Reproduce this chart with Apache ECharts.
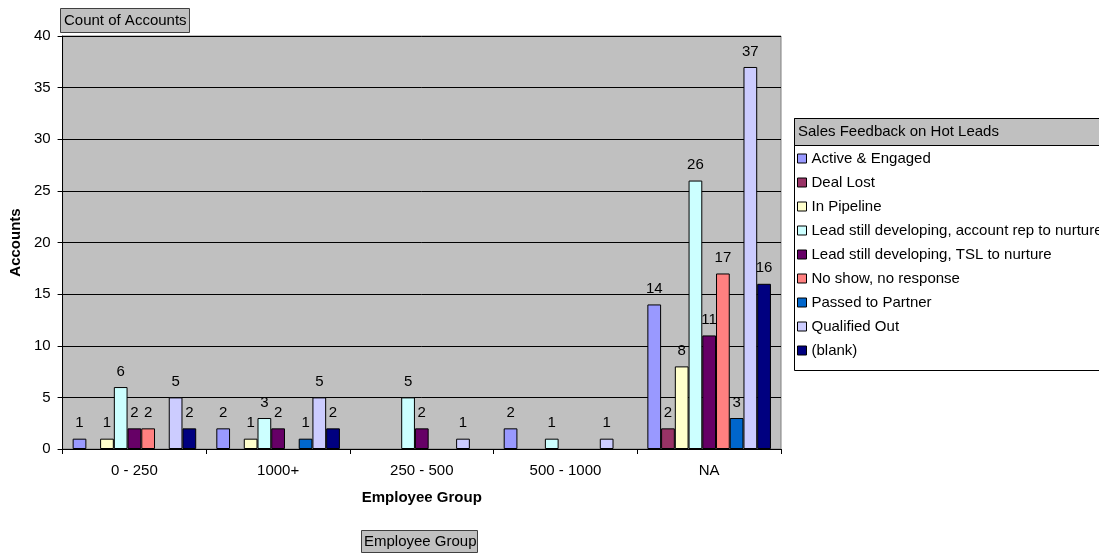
<!DOCTYPE html>
<html>
<head>
<meta charset="utf-8">
<script src="https://cdn.jsdelivr.net/npm/echarts@6/dist/echarts.min.js"></script>
<style>
  html, body { margin: 0; padding: 0; background: #fff; }
  #chart { width: 1099px; height: 554px; }
</style>
</head>
<body>
<div id="chart"></div>
<script>
// Employee groups along the x axis
const categories = ['0 - 250', '1000+', '250 - 500', '500 - 1000', 'NA'];

// Account counts per feedback status (null = no accounts in that group)
const activeEngaged   = [1, 2, null, 2, 14];
const dealLost        = [null, null, null, null, 2];
const inPipeline      = [1, 1, null, null, 8];
const leadAccountRep  = [6, 3, 5, 1, 26];
const leadTsl         = [2, 2, 2, null, 11];
const noShow          = [2, null, null, null, 17];
const passedToPartner = [null, 1, null, null, 3];
const qualifiedOut    = [5, 5, 1, 1, 37];
const blank           = [2, 2, null, null, 16];

const seriesNames = [
  'Active & Engaged', 'Deal Lost', 'In Pipeline',
  'Lead still developing, account rep to nurture',
  'Lead still developing, TSL to nurture',
  'No show, no response', 'Passed to Partner', 'Qualified Out', '(blank)'
];
const seriesData = [activeEngaged, dealLost, inPipeline, leadAccountRep, leadTsl,
                    noShow, passedToPartner, qualifiedOut, blank];
const seriesColors = ['#9999FF', '#993366', '#FFFFCC', '#CCFFFF', '#660066',
                      '#FF8080', '#0066CC', '#CCCCFF', '#000080'];

const yTicks = { min: 0, max: 40, interval: 5 };

const FONT = 'Liberation Sans, Arial, sans-serif';
const FS = 15;

const chart = echarts.init(document.getElementById('chart'), null, { renderer: 'canvas' });

const series = seriesNames.map((name, i) => ({
  name,
  type: 'bar',
  data: seriesData[i],
  barGap: '0%',
  barCategoryGap: '14%',
  itemStyle: { color: seriesColors[i], borderColor: '#000', borderWidth: 1 },
  label: {
    show: true,
    position: 'top',
    distance: 8,
    color: '#000',
    fontFamily: FONT,
    fontSize: FS
  }
}));

chart.setOption({
  animation: false,
  textStyle: { fontFamily: FONT },
  grid: {
    left: 61, right: 318, top: 36, bottom: 105,
    show: true,
    backgroundColor: '#C0C0C0',
    borderColor: '#808080',
    borderWidth: 1
  },
  legend: {
    orient: 'vertical',
    left: 797,
    top: 151,
    padding: 0,
    itemWidth: 9,
    itemHeight: 9,
    itemGap: 9,
    icon: 'rect',
    align: 'left',
    textStyle: { fontFamily: FONT, fontSize: FS, lineHeight: 15, color: '#000' },
    data: seriesNames.map((n, i) => ({
      name: n,
      itemStyle: { color: seriesColors[i], borderColor: '#000', borderWidth: 1 }
    }))
  },
  xAxis: {
    type: 'category',
    data: categories,
    name: 'Employee Group',
    nameLocation: 'middle',
    nameGap: 41,
    nameTextStyle: { fontFamily: FONT, fontSize: FS, fontWeight: 'bold', color: '#000' },
    axisLine: { lineStyle: { color: '#000', width: 1 } },
    axisTick: { show: true, alignWithLabel: false, length: 5, lineStyle: { color: '#000' } },
    axisLabel: { color: '#000', fontFamily: FONT, fontSize: FS, margin: 14 },
    splitLine: { show: false }
  },
  yAxis: {
    type: 'value',
    min: yTicks.min,
    max: yTicks.max,
    interval: yTicks.interval,
    name: 'Accounts',
    nameLocation: 'middle',
    nameGap: 34,
    nameRotate: 90,
    nameTextStyle: { fontFamily: FONT, fontSize: FS, fontWeight: 'bold', color: '#000' },
    axisLine: { show: true, lineStyle: { color: '#000', width: 1 } },
    axisTick: { show: true, length: 5, lineStyle: { color: '#000' } },
    axisLabel: { color: '#000', fontFamily: FONT, fontSize: FS, margin: 12 },
    splitLine: { show: true, lineStyle: { color: '#000', width: 1 } }
  },
  graphic: [
    // "Count of Accounts" field button
    {
      type: 'group', left: 60, top: 8,
      children: [
        { type: 'rect', shape: { x: 0.5, y: 0.5, width: 129, height: 24 },
          style: { fill: '#C0C0C0', stroke: '#404040', lineWidth: 1 } },
        { type: 'text', style: { x: 4, y: 13, text: 'Count of Accounts', fill: '#000',
          font: FS + 'px ' + FONT, verticalAlign: 'middle' } }
      ]
    },
    // "Employee Group" field button
    {
      type: 'group', left: 361, top: 530,
      children: [
        { type: 'rect', shape: { x: 0.5, y: 0.5, width: 116, height: 22 },
          style: { fill: '#C0C0C0', stroke: '#404040', lineWidth: 1 } },
        { type: 'text', style: { x: 3, y: 12, text: 'Employee Group', fill: '#000',
          font: FS + 'px ' + FONT, verticalAlign: 'middle' } }
      ]
    },
    // Legend frame with its title bar
    {
      type: 'group', left: 792, top: 116,
      children: [
        { type: 'rect', shape: { x: 0.5, y: 0.5, width: 320, height: 252 },
          style: { fill: 'none', stroke: '#000', lineWidth: 1 } },
        { type: 'rect', shape: { x: 0.5, y: 0.5, width: 320, height: 27 },
          style: { fill: '#C0C0C0', stroke: '#000', lineWidth: 1 } },
        { type: 'text', style: { x: 4, y: 14, text: 'Sales Feedback on Hot Leads', fill: '#000',
          font: FS + 'px ' + FONT, verticalAlign: 'middle' } }
      ]
    }
  ],
  series
});
</script>
</body>
</html>
